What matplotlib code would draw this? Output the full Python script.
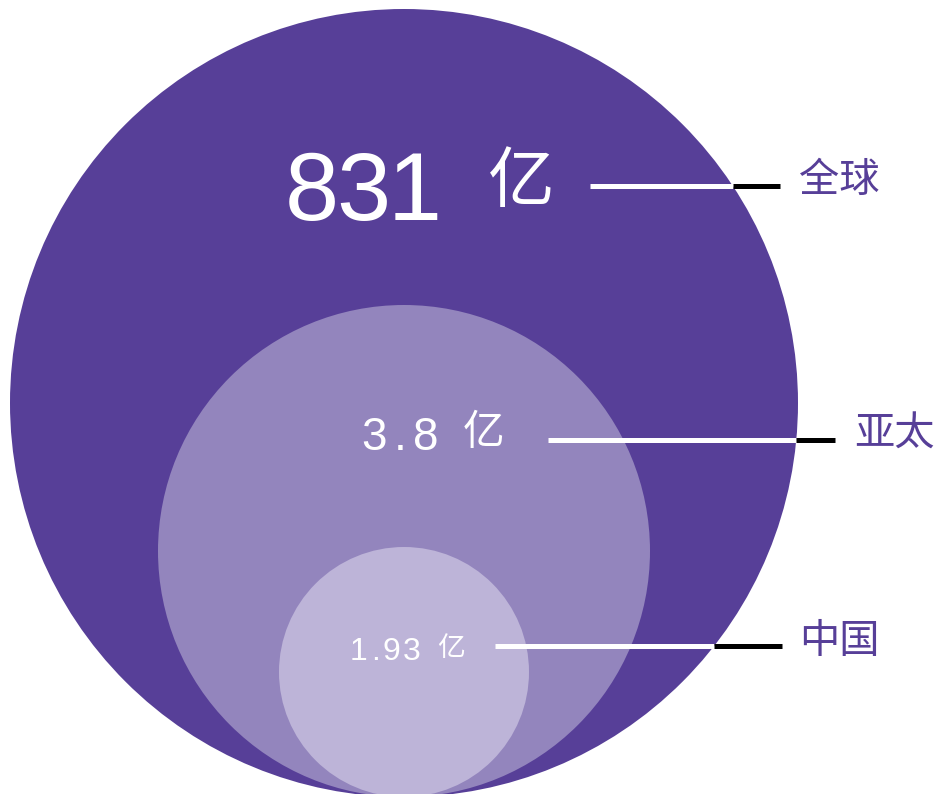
import matplotlib
matplotlib.use("Agg")
import matplotlib.pyplot as plt
from matplotlib.patches import Circle
import numpy as np

plt.rcParams['font.family'] = ['Liberation Sans', 'Noto Sans CJK SC', 'DejaVu Sans']

# data
regions = ['全球', '亚太', '中国']
values = ['831', '3.8', '1.93']
unit = '亿'

# layout (pixel space)
W, H = 939, 794
circles = [(404, 403, 394), (404, 551, 246), (404, 672, 125)]
colors = ['#573f98', '#9385bd', '#bdb4d8']
num_left = [285, 361, 350]
num_base = [220, 450, 660]
num_size = [70, 33, 23]
num_track = [-3, 7, 3]
unit_left = [488, 463, 437]
unit_cy = [183, 433, 648]
unit_size = [48, 30, 20]
line_y = [186, 440, 646]
line_x0 = [590, 548, 495]
line_x1 = [780, 835, 782]
name_x = [799, 854, 799]
name_dy = [-6, -6, -4]

fig = plt.figure(figsize=(W / 100, H / 100), dpi=100)
ax = fig.add_axes([0, 0, 1, 1])
ax.set_xlim(0, W)
ax.set_ylim(H, 0)
ax.set_aspect('equal')
ax.axis('off')
renderer = fig.canvas.get_renderer()

for (cx, cy, r), c in zip(circles, colors):
    ax.add_patch(Circle((cx, cy), r, facecolor=c, edgecolor='none', zorder=1))


def tracked(x, y, s, size, track):
    for ch in s:
        t = ax.text(x, y, ch, color='white', fontsize=size, ha='left', va='baseline', zorder=4)
        w = t.get_window_extent(renderer).width
        x += w + track


bcx, bcy, bR = circles[0]
for i, name in enumerate(regions):
    y = line_y[i]
    edge = bcx + np.sqrt(bR ** 2 - (y - bcy) ** 2)
    ax.plot([line_x0[i], edge], [y, y], color='white', lw=3.6, solid_capstyle='butt', zorder=3)
    ax.plot([edge, line_x1[i]], [y, y], color='black', lw=3.6, solid_capstyle='butt', zorder=3)
    tracked(num_left[i], num_base[i], values[i], num_size[i], num_track[i])
    ax.text(unit_left[i], unit_cy[i], unit, color='white', fontsize=unit_size[i],
            ha='left', va='center', family=['Noto Sans CJK SC', 'DejaVu Sans'], zorder=4)
    ax.text(name_x[i], y + name_dy[i], name, color='#573f98', fontsize=29, ha='left', va='center',
            family=['Noto Sans CJK SC', 'DejaVu Sans'], weight='medium', zorder=4)

fig.savefig('out.png', dpi=100)
